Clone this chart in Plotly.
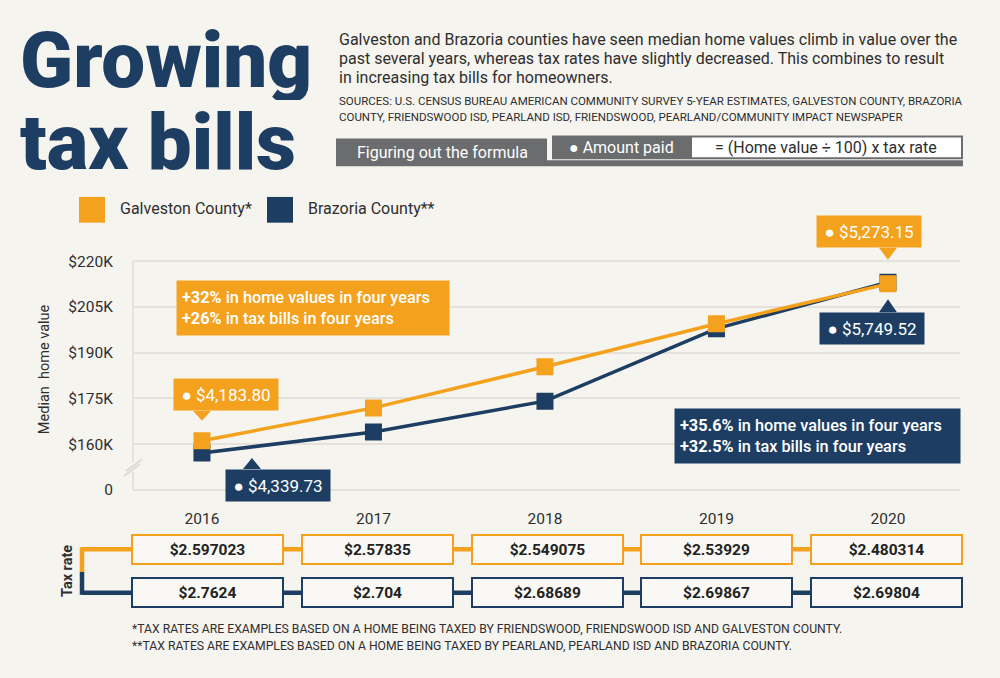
import plotly.graph_objects as go

W, H = 1000, 678

# data
years = [2016, 2017, 2018, 2019, 2020]
galveston_values = [161100, 171900, 185400, 199500, 212600]
brazoria_values = [157100, 164000, 174100, 197900, 213100]
galveston_rates = [2.597023, 2.57835, 2.549075, 2.53929, 2.480314]
brazoria_rates = [2.7624, 2.704, 2.68689, 2.69867, 2.69804]
bill_years = [2016, 2020]
galveston_bills = [4183.80, 5273.15]
brazoria_bills = [4339.73, 5749.52]
y_tick_vals = [145000, 160000, 175000, 190000, 205000, 220000]
y_tick_text = ["0", "$160K", "$175K", "$190K", "$205K", "$220K"]

ORANGE = "#f4a11d"
NAVY = "#1d3e62"
BG = "#f6f4ee"
DARK = "#2e2e2e"
GRID = "#e3e2dc"
GRAY_BOX = "#6b6c6e"
FONT = "Roboto"


def px(x):
    return x / W


def py(y):
    return 1 - y / H


def label(x, y, text, size, color=DARK, xanchor="center", yanchor="middle", **kw):
    font = dict(family=FONT, size=size, color=color)
    font.update(kw.pop("font", {}))
    d = dict(x=px(x), y=py(y), xref="paper", yref="paper", xanchor=xanchor, yanchor=yanchor,
             text=text, showarrow=False, font=font)
    d.update(kw)
    return d


fig = go.Figure()

fig.add_trace(go.Scatter(
    x=years, y=brazoria_values, mode="lines+markers", name="Brazoria County**",
    line=dict(color=NAVY, width=3.5),
    marker=dict(symbol="square", size=17, color=NAVY),
    hoverinfo="x+y"
))
fig.add_trace(go.Scatter(
    x=years, y=galveston_values, mode="lines+markers", name="Galveston County*",
    line=dict(color=ORANGE, width=3.5),
    marker=dict(symbol="square", size=17, color=ORANGE),
    hoverinfo="x+y"
))

annotations = []
shapes = []

# title (two lines, fixed-height boxes so they stack tightly)
annotations.append(label(18, 61, "Growing", 78, NAVY, xanchor="left", height=80, valign="middle",
                         font=dict(weight=900)))
annotations.append(label(18, 143, "tax bills", 78, NAVY, xanchor="left", height=80, valign="middle",
                         font=dict(weight=900)))

# description
desc_lines = [
    "Galveston and Brazoria counties have seen median home values climb in value over the",
    "past several years, whereas tax rates have slightly decreased. This combines to result",
    "in increasing tax bills for homeowners.",
]
for i, line in enumerate(desc_lines):
    annotations.append(label(337, 40 + 19 * i, line, 16, xanchor="left"))
source_lines = [
    "SOURCES: U.S. CENSUS BUREAU AMERICAN COMMUNITY SURVEY 5-YEAR ESTIMATES, GALVESTON COUNTY, BRAZORIA",
    "COUNTY, FRIENDSWOOD ISD, PEARLAND ISD, FRIENDSWOOD, PEARLAND/COMMUNITY IMPACT NEWSPAPER",
]
for i, line in enumerate(source_lines):
    annotations.append(label(337, 102 + 16 * i, line, 11.5, xanchor="left"))

# formula bar
shapes += [
    dict(type="rect", xref="paper", yref="paper", x0=px(336), x1=px(547), y0=py(168), y1=py(140),
         fillcolor=GRAY_BOX, line_width=0),
    dict(type="rect", xref="paper", yref="paper", x0=px(547), x1=px(963), y0=py(168), y1=py(162),
         fillcolor=GRAY_BOX, line_width=0),
    dict(type="rect", xref="paper", yref="paper", x0=px(552), x1=px(963), y0=py(161), y1=py(137),
         fillcolor=GRAY_BOX, line_width=0),
    dict(type="rect", xref="paper", yref="paper", x0=px(692), x1=px(961), y0=py(159), y1=py(139),
         fillcolor="white", line_width=0),
]
annotations.append(label(442, 154, "Figuring out the formula", 16, "white"))
annotations.append(label(621, 149, "● Amount paid", 16, "white"))
annotations.append(label(826, 149, "= (Home value ÷ 100) x tax rate", 16))

# legend
for sq_x, color, name in [(79, ORANGE, "Galveston County*"), (267, NAVY, "Brazoria County**")]:
    shapes.append(dict(type="rect", xref="paper", yref="paper", x0=px(sq_x), x1=px(sq_x + 26),
                       y0=py(225), y1=py(199), fillcolor=color, line_width=0))
    annotations.append(label(sq_x + 39, 211, name, 16, xanchor="left"))

# y axis title
annotations.append(label(44, 373, "Median  home value", 14.5, textangle=-90))

# y axis line and break
shapes += [
    dict(type="line", xref="paper", yref="y", x0=px(133), x1=px(133), y0=y_tick_vals[0], y1=y_tick_vals[-1],
         line=dict(color=GRID, width=2)),
    dict(type="rect", xref="paper", yref="paper", x0=px(128), x1=px(139), y0=py(477), y1=py(467),
         fillcolor=BG, line_width=0),
    dict(type="line", xref="paper", yref="paper", x0=px(124), x1=px(140), y0=py(481), y1=py(469),
         line=dict(color="#dcdbd6", width=2)),
    dict(type="line", xref="paper", yref="paper", x0=px(126), x1=px(142), y0=py(476), y1=py(464),
         line=dict(color="#dcdbd6", width=2)),
]

# info boxes
annotations.append(label(
    176, 283, "<b>+32%</b> in home values in four years<br><b>+26%</b> in tax bills in four years", 16.3, "white",
    xanchor="left", yanchor="top", align="left", width=262, height=44, borderpad=5, bgcolor=ORANGE,
    font=dict(weight=500)))
annotations.append(label(
    674, 412, "<b>+35.6%</b> in home values in four years<br><b>+32.5%</b> in tax bills in four years", 16.3,
    "white", xanchor="left", yanchor="top", align="left", width=275, height=44, borderpad=5, bgcolor=NAVY,
    font=dict(weight=500)))


# tax bill callouts anchored to the data points
def callout(year, value, amount, color, above, box_dx, box_gap, tip_dx, tip_gap):
    sign = 1 if above else -1
    annotations.append(dict(
        x=year, y=value, xref="x", yref="y", xanchor="left", yanchor="bottom" if above else "top",
        xshift=box_dx, yshift=sign * box_gap, text="● ${:,.2f}".format(amount),
        width=98, height=25, borderpad=3, bgcolor=color, showarrow=False,
        font=dict(family=FONT, size=17, color="white")))
    base = sign * box_gap
    tip = sign * tip_gap
    shapes.append(dict(
        type="path", xref="x", yref="y", xsizemode="pixel", ysizemode="pixel",
        xanchor=year, yanchor=value,
        path=f"M {tip_dx - 9},{base} L {tip_dx + 9},{base} L {tip_dx},{tip} Z",
        fillcolor=color, line_width=0))


i0, i1 = years.index(bill_years[0]), years.index(bill_years[1])
callout(bill_years[0], galveston_values[i0], galveston_bills[0], ORANGE, True, -29, 30, 0, 20)
callout(bill_years[0], brazoria_values[i0], brazoria_bills[0], NAVY, False, 23, 16, 50, 5)
callout(bill_years[1], galveston_values[i1], galveston_bills[1], ORANGE, True, -72, 36, 0, 24)
callout(bill_years[1], brazoria_values[i1], brazoria_bills[1], NAVY, False, -69, 30, 0, 17)

# tax rate table: five evenly spaced boxes from 131 px to 963 px
box_w, table_left, table_right = 153, 131, 963
step = (table_right - table_left - box_w) / (len(years) - 1)
for row_y, color, rates in [(555, ORANGE, galveston_rates), (599, NAVY, brazoria_rates)]:
    shapes.append(dict(type="line", xref="paper", yref="paper", x0=px(82), x1=px(962), y0=py(row_y),
                       y1=py(row_y), line=dict(color=color, width=4.5)))
    for k, r in enumerate(rates):
        annotations.append(label(
            table_left + box_w / 2 + k * step, row_y, f"<b>${r}</b>", 15.5, "#222222",
            width=box_w - 8, height=23, borderpad=2, borderwidth=2, bordercolor=color, bgcolor="#f9f8f4"))
shapes.append(dict(type="line", xref="paper", yref="paper", x0=px(82), x1=px(82), y0=py(553),
                   y1=py(578), line=dict(color=ORANGE, width=4.5)))
shapes.append(dict(type="line", xref="paper", yref="paper", x0=px(82), x1=px(82), y0=py(578),
                   y1=py(601), line=dict(color=NAVY, width=4.5)))
annotations.append(label(67, 577, "<b>Tax rate</b>", 14.5, textangle=-90))

# footnotes
foot_lines = [
    "*TAX RATES ARE EXAMPLES BASED ON A HOME BEING TAXED BY FRIENDSWOOD, FRIENDSWOOD ISD AND GALVESTON COUNTY.",
    "**TAX RATES ARE EXAMPLES BASED ON A HOME BEING TAXED BY PEARLAND, PEARLAND ISD AND BRAZORIA COUNTY.",
]
for i, line in enumerate(foot_lines):
    annotations.append(label(130, 636 + 17 * i, line, 12.2, xanchor="left"))

# y scale: 15K per 46.2 px, 145K ("0") gridline at 495 px
units_per_px = 15000 / 46.2
y_top_px, y_bot_px = 200, 497
y_range = [145000 - (y_bot_px - 495) * units_per_px, 145000 + (495 - y_top_px) * units_per_px]

fig.update_layout(
    width=W, height=H,
    margin=dict(l=0, r=0, t=0, b=0),
    paper_bgcolor=BG, plot_bgcolor="rgba(0,0,0,0)",
    showlegend=False,
    xaxis=dict(
        domain=[px(133), px(960)], range=[2015.598, 2020.42],
        tickvals=years, ticktext=[str(y) for y in years],
        showgrid=False, zeroline=False, showline=False,
        ticks="outside", ticklen=13, tickcolor="rgba(0,0,0,0)",
        tickfont=dict(family=FONT, size=15.5, color=DARK),
    ),
    yaxis=dict(
        domain=[py(y_bot_px), py(y_top_px)], range=y_range,
        tickvals=y_tick_vals, ticktext=y_tick_text,
        showgrid=True, gridcolor=GRID, gridwidth=2, zeroline=False, showline=False,
        ticks="outside", ticklen=16, tickcolor="rgba(0,0,0,0)",
        tickfont=dict(family=FONT, size=15.5, color=DARK),
    ),
    annotations=annotations,
    shapes=shapes,
)

fig.write_html("out.html", config={"displayModeBar": False},
               post_script="document.body.style.margin='0';")
